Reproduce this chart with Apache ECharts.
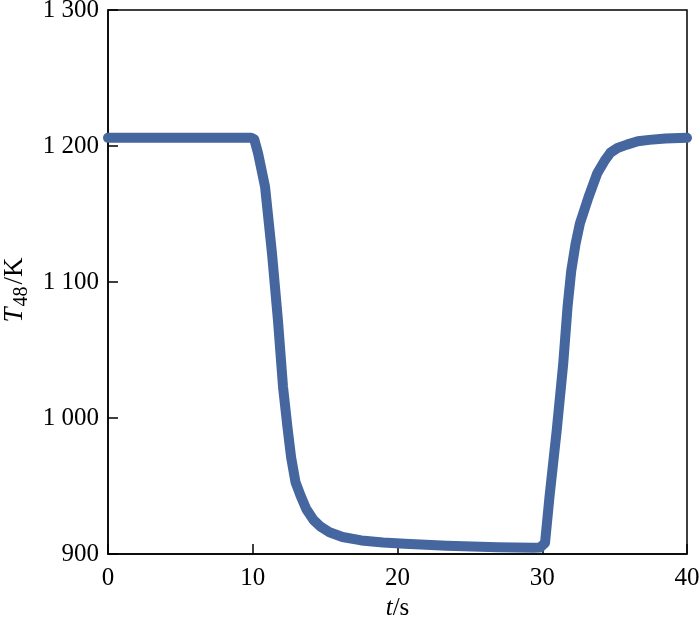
<!DOCTYPE html>
<html>
<head>
<meta charset="utf-8">
<script src="https://cdn.jsdelivr.net/npm/echarts@6/dist/echarts.min.js"></script>
<style>html,body{margin:0;padding:0;background:#fff}#c{width:700px;height:620px}</style>
</head>
<body>
<div id="c"></div>
<script>
const tValues = [0, 2, 4, 6, 8, 9.5, 9.9, 10.1, 10.36, 10.85, 11.33, 11.74, 12.09, 12.4, 12.65, 12.95, 13.3, 13.7, 14.2, 14.7, 15.3, 16.2, 17.5, 19.0, 20.5, 23.4, 26.9, 29.4, 29.85, 30.19, 30.5, 31.0, 31.45, 31.75, 32.0, 32.3, 32.6, 33.2, 33.8, 34.3, 34.7, 35.2, 35.85, 36.6, 37.4, 38.5, 40];
const T48Values = [1206, 1206, 1206, 1206, 1206, 1206, 1206, 1205, 1195, 1170, 1121, 1072, 1023, 993, 971, 953, 943, 933, 925, 920, 916, 912.5, 910, 908.5, 907.5, 906, 905, 904.6, 904.8, 908, 942, 991, 1040, 1082, 1108, 1128, 1143, 1162.5, 1180, 1189, 1195, 1198.5, 1201, 1203.5, 1204.5, 1205.5, 1206];
const yTicks = [900, 1000, 1100, 1200, 1300];
const xTicks = [0, 10, 20, 30, 40];

const font = '"Liberation Serif", "DejaVu Serif", serif';
const chart = echarts.init(document.getElementById('c'));
chart.setOption({
  animation: false,
  grid: {left: 108, right: 13, top: 10, bottom: 66, show: true, borderColor: '#000', borderWidth: 1.5, backgroundColor: 'transparent', containLabel: false, outerBoundsMode: 'none'},
  xAxis: {
    type: 'value', min: 0, max: 40, interval: 10,
    axisLine: {show: true, lineStyle: {color: '#000', width: 1.5}},
    axisTick: {show: true, inside: true, length: 10, lineStyle: {color: '#000', width: 1.5}},
    axisLabel: {color: '#000', fontFamily: font, fontSize: 25, margin: 12, formatter: v => String(v)},
    splitLine: {show: false},
    name: '{i|t}/s', nameLocation: 'middle', nameGap: 41,
    nameTextStyle: {color: '#000', fontFamily: font, fontSize: 25, rich: {i: {fontStyle: 'italic', fontFamily: font, fontSize: 25, color: '#000'}}}
  },
  yAxis: {
    type: 'value', min: 900, max: 1300, interval: 100,
    axisLine: {show: true, lineStyle: {color: '#000', width: 1.5}},
    axisTick: {show: true, inside: true, length: 10, lineStyle: {color: '#000', width: 1.5}},
    axisLabel: {color: '#000', fontFamily: font, fontSize: 25, margin: 9,
      formatter: v => v >= 1000 ? Math.floor(v / 1000) + ' ' + String(v % 1000).padStart(3, '0') : String(v)},
    splitLine: {show: false},
    name: '{i|T}{sub|48}{r|/K}', nameLocation: 'middle', nameGap: 68, nameRotate: 90,
    nameTextStyle: {color: '#000', fontFamily: font, fontSize: 27,
      rich: {i: {fontStyle: 'italic', fontFamily: font, fontSize: 27, color: '#000'},
             sub: {fontFamily: font, fontSize: 20, color: '#000', padding: [14, 2, 0, 1]},
             r: {fontFamily: font, fontSize: 27, color: '#000', padding: [0, 16, 0, 0]}}}
  },
  series: [{
    type: 'line',
    data: tValues.map((t, i) => [t, T48Values[i]]),
    showSymbol: false,
    smooth: false,
    lineStyle: {color: '#45669f', width: 10, cap: 'round', join: 'round'},
    clip: true
  }]
});
</script>
</body>
</html>
